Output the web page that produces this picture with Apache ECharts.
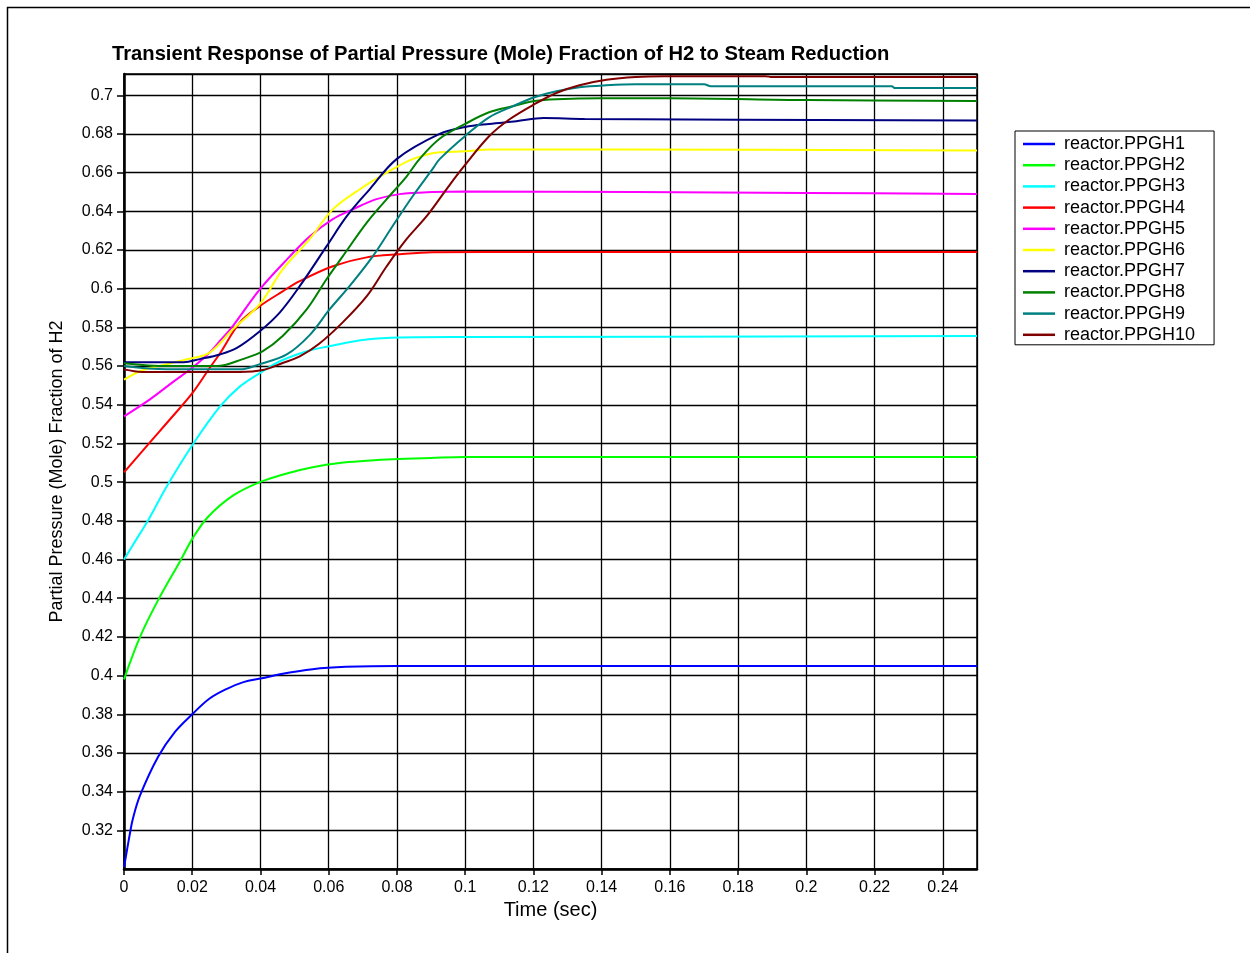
<!DOCTYPE html>
<html>
<head>
<meta charset="utf-8">
<script src="https://cdn.jsdelivr.net/npm/echarts@6/dist/echarts.min.js"></script>
<style>
html,body{margin:0;padding:0;background:#fff;}
#chart{width:1250px;height:953px;}
</style>
</head>
<body>
<div id="chart"></div>
<script>
var titleText = 'Transient Response of Partial Pressure (Mole) Fraction of H2 to Steam Reduction';
var xName = 'Time (sec)';
var yName = 'Partial Pressure (Mole) Fraction of H2';
var seriesNames = ['reactor.PPGH1','reactor.PPGH2','reactor.PPGH3','reactor.PPGH4','reactor.PPGH5',
                   'reactor.PPGH6','reactor.PPGH7','reactor.PPGH8','reactor.PPGH9','reactor.PPGH10'];

var ppgh1 = [[0,0.301],[0.0009,0.310],[0.0018,0.319],[0.0026,0.326],[0.0047,0.338],[0.01,0.358],[0.015,0.371],
  [0.02,0.38],[0.025,0.388],[0.03,0.393],[0.035,0.3966],[0.0404,0.3986],[0.0457,0.4007],[0.0553,0.4033],
  [0.065,0.4045],[0.08,0.405],[0.25,0.405]];
var ppgh2 = [[0,0.398],[0.0047,0.42],[0.01,0.439],[0.0164,0.459],[0.0202,0.4712],[0.0246,0.482],[0.0319,0.493],
  [0.0398,0.5],[0.0477,0.5045],[0.0553,0.5077],[0.0632,0.5099],[0.0711,0.511],[0.0787,0.5118],[0.09,0.5125],
  [0.1,0.513],[0.25,0.513]];
var ppgh3 = [[0,0.46],[0.0026,0.4675],[0.0073,0.481],[0.0126,0.498],[0.0202,0.5196],[0.0281,0.539],[0.034,0.5495],
  [0.0404,0.557],[0.0457,0.5625],[0.0536,0.5677],[0.0594,0.570],[0.0711,0.5737],[0.0808,0.5748],[0.1,0.575],[0.25,0.5755]];
var ppgh4 = [[0,0.505],[0.0076,0.5206],[0.0135,0.5325],[0.0202,0.5464],[0.0251,0.559],[0.0281,0.5665],[0.034,0.5826],
  [0.0398,0.591],[0.0465,0.5986],[0.0515,0.6039],[0.0612,0.6116],[0.0711,0.6162],[0.0808,0.6178],[0.0904,0.6188],
  [0.12,0.619],[0.25,0.619]];
var ppgh5 = [[0,0.534],[0.0076,0.5428],[0.0143,0.5517],[0.0202,0.5594],[0.0251,0.567],[0.0281,0.573],[0.0319,0.5807],
  [0.0398,0.5997],[0.0486,0.6167],[0.0544,0.627],[0.0612,0.636],[0.067,0.641],[0.074,0.6463],[0.0808,0.6489],
  [0.0904,0.65],[0.1,0.6503],[0.2,0.6495],[0.25,0.649]];
var ppgh6 = [[0,0.553],[0.0056,0.558],[0.0126,0.561],[0.0184,0.5635],[0.0251,0.567],[0.0319,0.579],
  [0.0398,0.592],[0.0465,0.610],[0.0544,0.6256],[0.0612,0.641],[0.0691,0.6514],[0.077,0.660],[0.0846,0.667],
  [0.0925,0.6706],[0.1,0.671],[0.107,0.672],[0.145,0.672],[0.25,0.6715]];
var ppgh7 = [[0,0.562],[0.0175,0.562],[0.0222,0.5636],[0.0281,0.566],[0.0331,0.5694],[0.0398,0.578],[0.0457,0.5878],
  [0.0515,0.6013],[0.0594,0.622],[0.0653,0.6375],[0.072,0.6514],[0.0799,0.667],[0.0925,0.68],[0.1,0.6836],
  [0.107,0.6852],[0.115,0.6866],[0.123,0.6882],[0.135,0.6877],[0.25,0.687]];
var ppgh8 = [[0,0.5615],[0.0126,0.56],[0.0272,0.56],[0.0348,0.5636],[0.0407,0.5677],[0.0465,0.5755],[0.0536,0.5894],
  [0.0594,0.605],[0.0641,0.6167],[0.0711,0.634],[0.077,0.6463],[0.0828,0.658],[0.0866,0.667],[0.0925,0.6775],
  [0.1,0.6852],[0.107,0.6912],[0.1139,0.6943],[0.1203,0.697],[0.1267,0.698],[0.14,0.6985],[0.16,0.6985],
  [0.2,0.6975],[0.25,0.697]];
var ppgh9 = [[0,0.56],[0.0126,0.5583],[0.034,0.5583],[0.0398,0.561],[0.0477,0.566],[0.0544,0.576],[0.0603,0.5894],
  [0.0661,0.6013],[0.0729,0.6167],[0.0787,0.6323],[0.0846,0.6478],[0.0904,0.6618],[0.0925,0.667],[0.1,0.679],
  [0.107,0.6886],[0.1139,0.6943],[0.1203,0.699],[0.1267,0.7021],[0.1335,0.7042],[0.1414,0.7052],[0.15,0.7057],
  [0.17,0.7057],[0.172,0.7047],[0.225,0.7047],[0.226,0.7037],[0.25,0.7037]];
var ppgh10 = [[0,0.5583],[0.0053,0.557],[0.0339,0.557],[0.0407,0.558],[0.0465,0.5616],[0.0515,0.565],[0.0571,0.5714],
  [0.0641,0.5826],[0.0711,0.596],[0.077,0.6116],[0.0828,0.6256],[0.0887,0.6375],[0.0945,0.6514],[0.0992,0.6623],
  [0.107,0.6788],[0.113,0.6876],[0.1203,0.6954],[0.1267,0.7012],[0.1335,0.7052],[0.1414,0.708],[0.15,0.7095],
  [0.158,0.7099],[0.188,0.7099],[0.19,0.7094],[0.25,0.7094]];

var seriesData = [ppgh1, ppgh2, ppgh3, ppgh4, ppgh5, ppgh6, ppgh7, ppgh8, ppgh9, ppgh10];
var colors = ['#0000FF','#00FF00','#00FFFF','#FF0000','#FF00FF','#FFFF00','#000080','#008000','#008080','#800000'];

var FONT = '"Liberation Sans", Arial, sans-serif';
var chart = echarts.init(document.getElementById('chart'), null, {renderer: 'canvas'});

var fmt = function (v) { return String(parseFloat(v.toFixed(2))); };

var option = {
  animation: false,
  backgroundColor: '#fff',
  color: colors,
  title: {
    text: titleText,
    left: 112, top: 44, padding: 0,
    textStyle: {fontFamily: FONT, fontSize: 20.2, fontWeight: 'bold', color: '#000'}
  },
  graphic: [{
    type: 'rect', silent: true,
    shape: {x: 7.5, y: 7.5, width: 1300, height: 1000},
    style: {fill: 'none', stroke: '#000', lineWidth: 1.5}
  }],
  legend: {
    orient: 'vertical', left: 1015, top: 131,
    icon: 'rect', itemWidth: 32, itemHeight: 2.5, itemGap: 3.2,
    padding: [4, 19, 1, 8],
    borderColor: '#000', borderWidth: 1,
    textStyle: {fontFamily: FONT, fontSize: 18, color: '#000', padding: [0, 0, 0, 4]},
    data: seriesNames
  },
  grid: {left: 124, right: 273, top: 74, bottom: 84, show: true, borderColor: '#000', borderWidth: 1.5, backgroundColor: '#fff'},
  xAxis: {
    type: 'value', min: 0, max: 0.25, interval: 0.02,
    name: xName, nameLocation: 'middle', nameGap: 29,
    nameTextStyle: {fontFamily: FONT, fontSize: 20, color: '#000'},
    axisLine: {show: true, lineStyle: {color: '#000', width: 2.5}},
    axisTick: {show: true, length: 6, lineStyle: {color: '#000', width: 1.5}},
    axisLabel: {fontFamily: FONT, fontSize: 16, color: '#000', margin: 11, showMaxLabel: false, formatter: fmt},
    splitLine: {show: true, lineStyle: {color: '#000', width: 1.3}}
  },
  yAxis: {
    type: 'value', min: 0.30, max: 0.711, interval: 0.02,
    name: yName, nameLocation: 'middle', nameGap: 58,
    nameTextStyle: {fontFamily: FONT, fontSize: 18, color: '#000'},
    axisLine: {show: true, lineStyle: {color: '#000', width: 2.5}},
    axisTick: {show: true, length: 7, lineStyle: {color: '#000', width: 1.5}},
    axisLabel: {fontFamily: FONT, fontSize: 16, color: '#000', margin: 11, showMinLabel: false, showMaxLabel: false, formatter: fmt},
    splitLine: {show: true, lineStyle: {color: '#000', width: 1.3}}
  },
  series: seriesNames.map(function (n, i) {
    return {
      name: n, type: 'line', data: seriesData[i],
      symbol: 'none', showSymbol: false,
      smooth: 0.35,
      lineStyle: {width: 2, color: colors[i]},
      itemStyle: {color: colors[i]}
    };
  })
};
chart.setOption(option);
</script>
</body>
</html>
